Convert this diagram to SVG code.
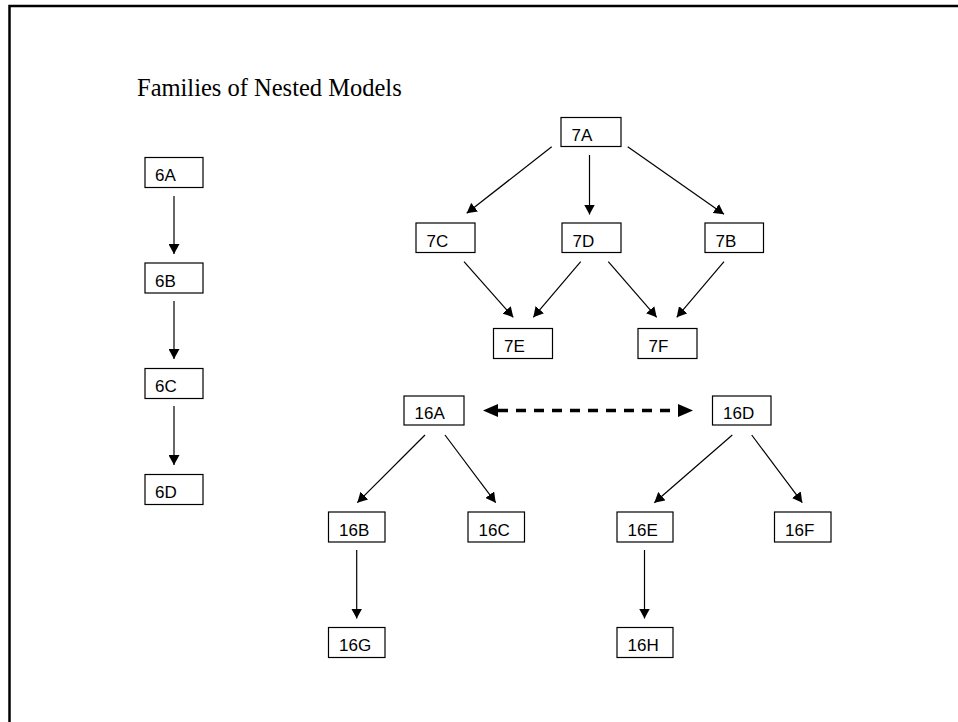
<svg xmlns="http://www.w3.org/2000/svg" width="958" height="722" viewBox="0 0 958 722">
<defs>
<style>
.box rect{fill:#fff;stroke:#000;stroke-width:1.2}
.box text{font-family:"Liberation Sans",Arial,sans-serif;font-size:17px;fill:#000}
.conn line{stroke:#000;stroke-width:1.2;fill:none}
.conn line.dash{stroke-width:3.5;stroke-dasharray:10 8}
.title{font-family:"Liberation Serif","Times New Roman",serif;font-size:24.5px;fill:#000}
</style>
<marker id="arr" markerUnits="userSpaceOnUse" markerWidth="10" markerHeight="11" viewBox="0 0 10 11" refX="10" refY="5.5" orient="auto">
<path d="M0,0 L10,5.5 L0,11 z" fill="#000"/>
</marker>
<marker id="big" markerUnits="userSpaceOnUse" markerWidth="16" markerHeight="14" viewBox="0 -7 16 14" refX="0" refY="0" orient="auto-start-reverse">
<path d="M0,-6.5 L15,0 L0,6.5 z" fill="#000"/>
</marker>
</defs>
<rect width="958" height="722" fill="#fff"/>
<path d="M9.5,722 V6 H958" fill="none" stroke="#000" stroke-width="2.5"/>
<text class="title" x="137" y="96">Families of Nested Models</text>

<g class="conn">
<line x1="174" y1="196" x2="174" y2="254" marker-end="url(#arr)"/>
<line x1="174" y1="301" x2="174" y2="359" marker-end="url(#arr)"/>
<line x1="174" y1="406" x2="174" y2="465" marker-end="url(#arr)"/>
<line x1="551.7" y1="146.7" x2="466.7" y2="213.3" marker-end="url(#arr)"/>
<line x1="589.5" y1="155" x2="589.5" y2="214.5" marker-end="url(#arr)"/>
<line x1="627.7" y1="146.7" x2="724" y2="214.3" marker-end="url(#arr)"/>
<line x1="464" y1="261.7" x2="513.3" y2="317.3" marker-end="url(#arr)"/>
<line x1="580.7" y1="261.7" x2="533.3" y2="317.3" marker-end="url(#arr)"/>
<line x1="608.3" y1="261.7" x2="656.7" y2="317.3" marker-end="url(#arr)"/>
<line x1="724" y1="261.7" x2="676.7" y2="317.3" marker-end="url(#arr)"/>
<line x1="425" y1="435" x2="357.3" y2="502.7" marker-end="url(#arr)"/>
<line x1="445" y1="435" x2="495.7" y2="502.7" marker-end="url(#arr)"/>
<line x1="732.3" y1="435" x2="654.3" y2="502.7" marker-end="url(#arr)"/>
<line x1="751.7" y1="435" x2="802.3" y2="502.7" marker-end="url(#arr)"/>
<line x1="356.7" y1="550" x2="356.7" y2="618.5" marker-end="url(#arr)"/>
<line x1="644.5" y1="550" x2="644.5" y2="618.5" marker-end="url(#arr)"/>
<line class="dash" x1="498" y1="410.5" x2="678" y2="410.5" marker-start="url(#big)" marker-end="url(#big)"/>
</g>

<g id="n6A" class="box"><rect x="145" y="157.5" width="58" height="30"/><text x="155" y="181">6A</text></g>
<g id="n6B" class="box"><rect x="145" y="263" width="58" height="30"/><text x="155" y="286.5">6B</text></g>
<g id="n6C" class="box"><rect x="145" y="368.5" width="58" height="30"/><text x="155" y="392">6C</text></g>
<g id="n6D" class="box"><rect x="145" y="474.5" width="58" height="30"/><text x="155" y="498">6D</text></g>

<g id="n7A" class="box"><rect x="561" y="117.5" width="60" height="29"/><text x="571.5" y="141">7A</text></g>
<g id="n7C" class="box"><rect x="416" y="223" width="59" height="29.5"/><text x="426.5" y="246.5">7C</text></g>
<g id="n7D" class="box"><rect x="562" y="223" width="59" height="29.5"/><text x="572.5" y="246.5">7D</text></g>
<g id="n7B" class="box"><rect x="705" y="223" width="58.5" height="29.5"/><text x="715.5" y="246.5">7B</text></g>
<g id="n7E" class="box"><rect x="493.5" y="328.5" width="59" height="30"/><text x="504" y="352">7E</text></g>
<g id="n7F" class="box"><rect x="638" y="328.5" width="59" height="30"/><text x="648.5" y="352">7F</text></g>

<g id="n16A" class="box"><rect x="404" y="396" width="60" height="29"/><text x="414.5" y="419">16A</text></g>
<g id="n16D" class="box"><rect x="712.5" y="396" width="58.5" height="29"/><text x="723" y="419">16D</text></g>
<g id="n16B" class="box"><rect x="328.5" y="512" width="56.5" height="30"/><text x="339" y="535.5">16B</text></g>
<g id="n16C" class="box"><rect x="468" y="512" width="56.5" height="30"/><text x="478.5" y="535.5">16C</text></g>
<g id="n16E" class="box"><rect x="617" y="512" width="56" height="30"/><text x="627.5" y="535.5">16E</text></g>
<g id="n16F" class="box"><rect x="774.5" y="512" width="56.5" height="30"/><text x="785" y="535.5">16F</text></g>
<g id="n16G" class="box"><rect x="328.5" y="627.5" width="56.5" height="30"/><text x="339" y="651">16G</text></g>
<g id="n16H" class="box"><rect x="617" y="627.5" width="56" height="30"/><text x="627.5" y="651">16H</text></g>
</svg>
